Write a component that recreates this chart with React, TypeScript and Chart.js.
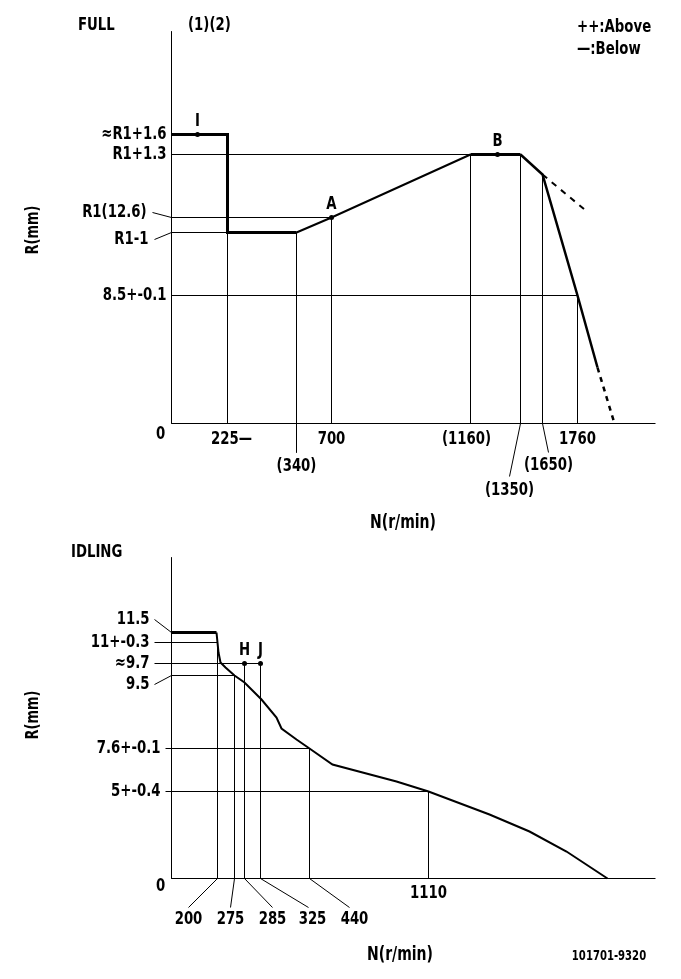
import React, { useEffect, useRef } from "react";
import { Chart, registerables } from "chart.js";
Chart.register(...registerables);

// ================= FULL (upper diagram) — schematic units =================
const fullLevelLabels = ["≈R1+1.6", "R1+1.3", "R1(12.6)", "R1-1", "8.5+-0.1"];
const fullLevels = [289, 269, 206, 191, 128];
const fullLevelLineEnd = [0, 299, 160, 56, 406];
const fullSpeedLabels = ["225—", "(340)", "700", "(1160)", "(1350)", "(1650)", "1760"];
const fullSpeeds = [56, 125, 160, 299, 349, 371, 406];
const fullSpeedLineTop = [191, 191, 206, 269, 269, 249, 128];
const fullStepX = [0, 56, 56, 125];
const fullStepY = [289, 289, 191, 191];
const fullRiseX = [125, 160, 299];
const fullRiseY = [191, 206, 269];
const fullPlateauX = [299, 349];
const fullPlateauY = [269, 269];
const fullDropX = [349, 371, 406, 426];
const fullDropY = [269, 249, 128, 56];
const fullDropDashX = [426, 443];
const fullDropDashY = [56, 0];
const fullAboveDashX = [371, 413];
const fullAboveDashY = [249, 214];
const fullPointNames = ["I", "A", "B"];
const fullPointX = [26, 160, 326];
const fullPointY = [289, 206, 269];

// ================= IDLING (lower diagram) — schematic units =================
const idleLevelLabels = ["11.5", "11+-0.3", "≈9.7", "9.5", "7.6+-0.1", "5+-0.4"];
const idleLevels = [246, 236, 215, 203, 130, 87];
const idleLevelLineEnd = [0, 46, 89, 63, 138, 257];
const idleSpeedLabels = ["200", "275", "285", "325", "440", "1110"];
const idleSpeeds = [46, 63, 73, 89, 138, 257];
const idleSpeedLineTop = [236, 203, 215, 215, 130, 87];
const idleFlatX = [0, 45];
const idleFlatY = [246, 246];
const idleCurveX = [45, 47, 49, 54, 63, 73, 90, 105, 110, 125, 138, 161, 225, 257, 318, 358, 395, 436];
const idleCurveY = [246, 226, 216, 211, 203, 196, 179, 161, 150, 139, 130, 114, 97, 87, 64, 47, 27, 0];
const idlePointNames = ["H", "J"];
const idlePointX = [73, 89];
const idlePointY = [215, 215];

// ================= layout (label / leader placement) =================
const fullLevelLeaderDx = [0, 0, -19, -17, 0];
const fullLevelLeaderDy = [0, 0, 5, -7, 0];
const fullSpeedLabelX = [60, 125, 160, 295, 338, 377, 406];
const fullSpeedLabelY = [-16, -43, -16, -16, -67, -42, -16];
const fullSpeedLeaderX = [null, 125, null, null, 338, 377, null];
const fullSpeedLeaderY = [null, -29, null, null, -53, -29, null];

const idleLevelLeaderDx = [-17, -17, -17, -17, -6, -6];
const idleLevelLeaderDy = [13, 0, 0, -9, 0, 0];
const idleSpeedLabelX = [17, 59, 101, 141, 183, 257];
const idleSpeedLabelY = [-41, -41, -41, -41, -41, -15];
const idleSpeedLeaderX = [17, 59, 101, 137, 178, null];
const idleSpeedLeaderY = [-29, -29, -29, -29, -29, null];

const FONT_FAMILY = "'DejaVu Sans Condensed','DejaVu Sans',sans-serif";
const FS = 18;
const SX = 0.82;

function pts(xs: number[], ys: number[]) {
  return xs.map((x, i) => ({ x, y: ys[i] }));
}

function lineDs(data: { x: number; y: number }[], width = 1, dash: number[] = []) {
  return {
    data,
    showLine: true,
    borderColor: "#000",
    backgroundColor: "#000",
    borderWidth: width,
    borderDash: dash,
    pointRadius: 0,
    fill: false,
    tension: 0,
    clip: false as any,
    borderCapStyle: "butt",
    borderJoinStyle: "miter",
  };
}

function dotDs(data: { x: number; y: number }[]) {
  return {
    data,
    showLine: false,
    pointRadius: 2.5,
    pointBackgroundColor: "#000",
    pointBorderColor: "#000",
    pointBorderWidth: 0,
    clip: false as any,
  };
}

function txt(
  ctx: CanvasRenderingContext2D,
  s: string,
  x: number,
  y: number,
  align: CanvasTextAlign = "center",
  size = FS,
  sx = SX,
  rot = 0
) {
  ctx.save();
  ctx.font = `bold ${size}px ${FONT_FAMILY}`;
  ctx.fillStyle = "#000";
  ctx.textBaseline = "middle";
  ctx.textAlign = align;
  ctx.translate(x, y);
  if (rot) ctx.rotate(rot);
  ctx.scale(sx, 1);
  ctx.fillText(s, 0, 0);
  ctx.restore();
}

function levelDatasets(levels: number[], ends: number[], ldx: number[], ldy: number[]) {
  const out: any[] = [];
  levels.forEach((lv, i) => {
    if (ldy[i] !== 0) {
      out.push(lineDs(pts([ldx[i], 0], [lv + ldy[i], lv])));
      if (ends[i] > 0) out.push(lineDs(pts([0, ends[i]], [lv, lv])));
    } else if (ends[i] > ldx[i]) {
      out.push(lineDs(pts([ldx[i], ends[i]], [lv, lv])));
    }
  });
  return out;
}

function speedDatasets(speeds: number[], tops: number[], lx: (number | null)[], ly: (number | null)[]) {
  const out: any[] = [];
  speeds.forEach((s, i) => {
    out.push(lineDs(pts([s, s], [tops[i], 0])));
    if (lx[i] !== null && ly[i] !== null) {
      out.push(lineDs(pts([s, lx[i] as number], [0, ly[i] as number])));
    }
  });
  return out;
}

function makeChart(
  canvas: HTMLCanvasElement,
  datasets: any[],
  padding: any,
  xMax: number,
  yMax: number,
  drawTexts: (ctx: CanvasRenderingContext2D, px: (v: number) => number, py: (v: number) => number) => void
) {
  return new Chart(canvas, {
    type: "scatter",
    data: { datasets },
    options: {
      animation: false,
      responsive: false,
      maintainAspectRatio: false,
      devicePixelRatio: 1,
      events: [],
      layout: { padding },
      plugins: { legend: { display: false }, tooltip: { enabled: false } },
      scales: {
        x: { type: "linear", display: false, min: 0, max: xMax },
        y: { type: "linear", display: false, min: 0, max: yMax },
      },
    } as any,
    plugins: [
      {
        id: "texts",
        afterDatasetsDraw(chart: any) {
          const ctx = chart.ctx as CanvasRenderingContext2D;
          const xs = chart.scales.x;
          const ys = chart.scales.y;
          drawTexts(
            ctx,
            (v) => xs.getPixelForValue(v),
            (v) => ys.getPixelForValue(v)
          );
        },
      },
    ],
  });
}

export default function App() {
  const topRef = useRef<HTMLCanvasElement>(null);
  const botRef = useRef<HTMLCanvasElement>(null);

  useEffect(() => {
    document.body.style.margin = "0";
    const X_MAX = 484;

    // ---------- FULL ----------
    const fullY = 392;
    const topDs: any[] = [
      lineDs(pts([0, 0, X_MAX], [fullY, 0, 0])),
      ...levelDatasets(fullLevels, fullLevelLineEnd, fullLevelLeaderDx, fullLevelLeaderDy),
      ...speedDatasets(fullSpeeds, fullSpeedLineTop, fullSpeedLeaderX, fullSpeedLeaderY),
      lineDs(pts(fullStepX, fullStepY), 3),
      lineDs(pts(fullRiseX, fullRiseY), 2),
      lineDs(pts(fullPlateauX, fullPlateauY), 3),
      lineDs(pts(fullDropX, fullDropY), 2.5),
      lineDs(pts(fullDropDashX, fullDropDashY), 2.5, [5, 5]),
      lineDs(pts(fullAboveDashX, fullAboveDashY), 2, [6, 6]),
      dotDs(pts(fullPointX, fullPointY)),
    ];
    const top = makeChart(
      topRef.current!,
      topDs,
      { left: 171.5, right: 25.5, top: 31.5, bottom: 116.5 },
      X_MAX,
      fullY,
      (ctx, px, py) => {
        const ax = px(0);
        txt(ctx, "FULL", 78, 25, "left");
        txt(ctx, "(1)(2)", 188, 25, "left");
        txt(ctx, "++:Above", 577, 27, "left");
        txt(ctx, "—:Below", 577, 49, "left");
        txt(ctx, "R(mm)", 34, 230, "center", 17, 0.85, -Math.PI / 2);
        txt(ctx, "N(r/min)", 403, 523, "center", 19);
        txt(ctx, "0", ax - 11, py(0) + 11, "center");
        fullLevelLabels.forEach((s, i) => {
          const xr = fullLevelLeaderDx[i] !== 0 ? px(fullLevelLeaderDx[i]) - 6 : ax - 5;
          txt(ctx, s, xr, py(fullLevels[i] + fullLevelLeaderDy[i]), "right");
        });
        fullSpeedLabels.forEach((s, i) => {
          txt(ctx, s, px(fullSpeedLabelX[i]), py(fullSpeedLabelY[i]), "center");
        });
        fullPointNames.forEach((s, i) => {
          txt(ctx, s, px(fullPointX[i]), py(fullPointY[i]) - 13, "center");
        });
      }
    );

    // ---------- IDLING ----------
    const idleY = 321;
    const botDs: any[] = [
      lineDs(pts([0, 0, X_MAX], [idleY, 0, 0])),
      ...levelDatasets(idleLevels, idleLevelLineEnd, idleLevelLeaderDx, idleLevelLeaderDy),
      ...speedDatasets(idleSpeeds, idleSpeedLineTop, idleSpeedLeaderX, idleSpeedLeaderY),
      lineDs(pts(idleFlatX, idleFlatY), 3),
      lineDs(pts(idleCurveX, idleCurveY), 2),
      dotDs(pts(idlePointX, idlePointY)),
    ];
    const bot = makeChart(
      botRef.current!,
      botDs,
      { left: 171.5, right: 25.5, top: 17.5, bottom: 100.5 },
      X_MAX,
      idleY,
      (ctx, px, py) => {
        const ax = px(0);
        txt(ctx, "IDLING", 71, 12, "left");
        txt(ctx, "R(mm)", 34, 175, "center", 17, 0.85, -Math.PI / 2);
        txt(ctx, "N(r/min)", 400, 415, "center", 19);
        txt(ctx, "101701-9320", 609, 416, "center", 14, 0.8);
        txt(ctx, "0", ax - 11, py(0) + 8, "center");
        idleLevelLabels.forEach((s, i) => {
          txt(ctx, s, px(idleLevelLeaderDx[i]) - 5, py(idleLevels[i] + idleLevelLeaderDy[i]), "right");
        });
        idleSpeedLabels.forEach((s, i) => {
          txt(ctx, s, px(idleSpeedLabelX[i]), py(idleSpeedLabelY[i]), "center");
        });
        idlePointNames.forEach((s, i) => {
          txt(ctx, s, px(idlePointX[i]), py(idlePointY[i]) - 13, "center");
        });
      }
    );

    return () => {
      top.destroy();
      bot.destroy();
    };
  }, []);

  return (
    <div style={{ position: "relative", width: 681, height: 979, background: "#fff" }}>
      <canvas ref={topRef} width={681} height={540} style={{ position: "absolute", left: 0, top: 0 }} />
      <canvas ref={botRef} width={681} height={439} style={{ position: "absolute", left: 0, top: 540 }} />
    </div>
  );
}
